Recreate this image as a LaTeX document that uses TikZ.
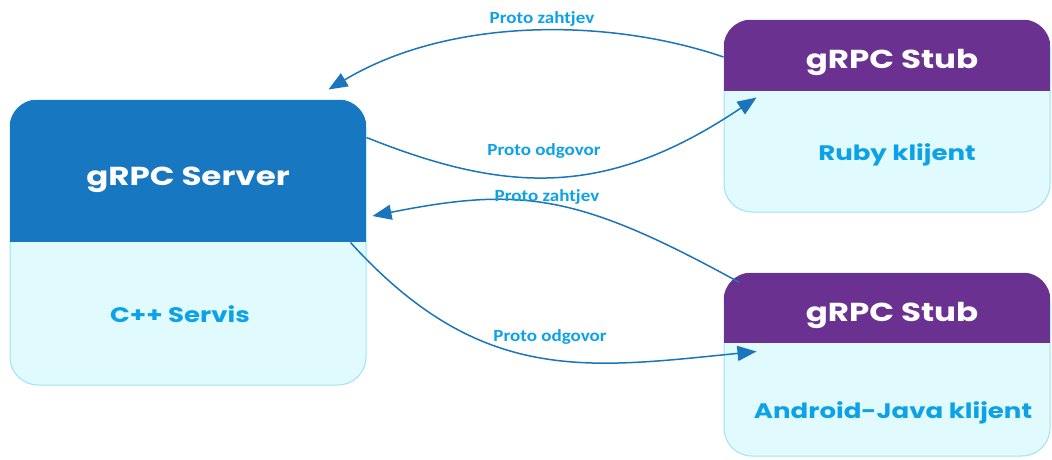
\documentclass[tikz,border=0pt]{standalone}
\usepackage{fontspec}
\usepackage{graphicx}
\setmainfont{Carlito}
\newfontfamily\titlefont{Poppins}
\usetikzlibrary{arrows.meta,calc}
\definecolor{srvblue}{HTML}{1877C1}
\definecolor{stubpurple}{HTML}{6B3190}
\definecolor{lightfill}{HTML}{E0FAFD}
\definecolor{lightborder}{HTML}{9EE3F7}
\definecolor{cyantext}{HTML}{0DA2E7}
\definecolor{arrowblue}{HTML}{1B75BC}
\newcommand{\wideT}[1]{\scalebox{1.25}[1]{#1}}
\newcommand{\wideB}[1]{\scalebox{1.24}[1]{#1}}
\newcommand{\wideL}[1]{\scalebox{1.12}[1]{#1}}
\tikzset{
  boxshape/.style={draw=lightborder, line width=1pt, fill=lightfill, rounded corners=28pt, inner sep=0pt},
  titletext/.style={text=white, font=\titlefont\bfseries\fontsize{26}{26}\selectfont},
  bodytext/.style={text=cyantext, font=\titlefont\bfseries\fontsize{21}{21}\selectfont},
  lbl/.style={text=cyantext, font=\bfseries\fontsize{17}{17}\selectfont},
  conn/.style={draw=arrowblue, line width=1.5pt, -{Triangle[length=19pt,width=15pt]}},
}
\begin{document}
\begin{tikzpicture}[x=1pt,y=-1pt]
\fill[white] (0,0) rectangle (1052,459);
\useasboundingbox (0,0) rectangle (1052,459);

% server box
\node[boxshape, minimum width=356pt, minimum height=285pt] (srv) at (188,242.5) {};
\begin{scope}
  \clip[rounded corners=28pt] (srv.north west) rectangle (srv.south east);
  \fill[srvblue] (srv.north west) rectangle ([yshift=-142pt]srv.north east);
\end{scope}
\node[titletext] (srvtitle) at (188,180) {\wideT{gRPC Server}};
\node[bodytext] (srvbody) at (180,314) {\wideB{C++ Servis}};

% stub 1
\node[boxshape, minimum width=326pt, minimum height=192pt] (stub1) at (887,116) {};
\begin{scope}
  \clip[rounded corners=28pt] (stub1.north west) rectangle (stub1.south east);
  \fill[stubpurple] (stub1.north west) rectangle ([yshift=-71pt]stub1.north east);
\end{scope}
\node[titletext] (stub1title) at (892,62) {\wideT{gRPC Stub}};
\node[bodytext] (stub1body) at (897,155) {\wideB{Ruby klijent}};

% stub 2
\node[boxshape, minimum width=326pt, minimum height=183pt] (stub2) at (887,364.5) {};
\begin{scope}
  \clip[rounded corners=28pt] (stub2.north west) rectangle (stub2.south east);
  \fill[stubpurple] (stub2.north west) rectangle ([yshift=-70pt]stub2.north east);
\end{scope}
\node[titletext] (stub2title) at (892,315) {\wideT{gRPC Stub}};
\node[bodytext] (stub2body) at (893,413) {\wideB{Android-Java klijent}};

% connectors
\draw[conn] ([yshift=59pt]stub1.west) .. controls +(-114,-39) and +(122,-73) .. ([xshift=-38pt,yshift=10pt]srv.north east);
\draw[conn] ([yshift=-38pt]srv.north east) .. controls +(140,56) and +(-150,101) .. ([xshift=33pt,yshift=-78pt]stub1.north west);
\draw[conn] ([xshift=16pt,yshift=-10pt]stub2.north west) .. controls +(-160,-88) and +(150,-30) .. ([xshift=6pt,yshift=26.5pt]srv.east);
\draw[conn] ([xshift=-16pt]srv.east) .. controls +(130,143) and +(-170,17) .. ([xshift=33pt,yshift=-79pt]stub2.north west);

% labels
\node[lbl] (l1) at (542,19) {\wideL{Proto zahtjev}};
\node[lbl] (l2) at (544,151) {\wideL{Proto odgovor}};
\node[lbl] (l3) at (547,197) {\wideL{Proto zahtjev}};
\node[lbl] (l4) at (550,337) {\wideL{Proto odgovor}};
\end{tikzpicture}
\end{document}
